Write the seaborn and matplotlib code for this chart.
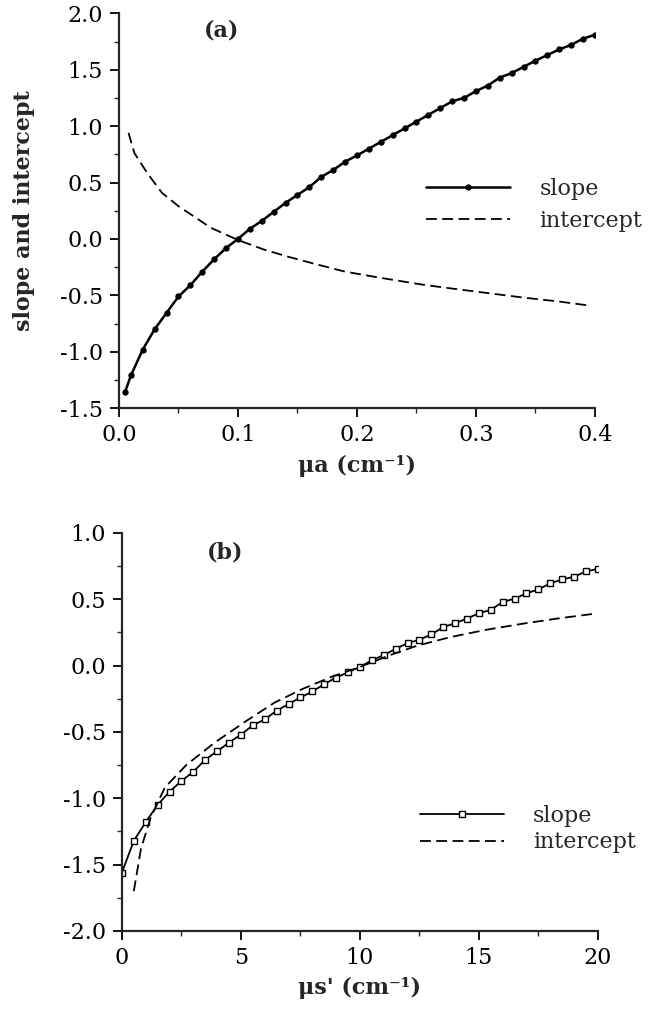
import numpy as np
import pandas as pd
import matplotlib
matplotlib.use("Agg")
import matplotlib.pyplot as plt
import seaborn as sns
from matplotlib.ticker import MultipleLocator

# panel (a): slope / intercept vs absorption coefficient
mua_slope = [0.005, 0.01, 0.02, 0.03, 0.04, 0.05, 0.06, 0.07, 0.08, 0.09, 0.10,
             0.11, 0.12, 0.13, 0.14, 0.15, 0.16, 0.17, 0.18, 0.19, 0.20,
             0.21, 0.22, 0.23, 0.24, 0.25, 0.26, 0.27, 0.28, 0.29, 0.30,
             0.31, 0.32, 0.33, 0.34, 0.35, 0.36, 0.37, 0.38, 0.39, 0.40]
slope_a = [-1.36, -1.21, -0.98, -0.80, -0.655, -0.51, -0.41, -0.29, -0.18, -0.08, 0.00,
           0.09, 0.16, 0.24, 0.32, 0.39, 0.46, 0.55, 0.61, 0.685, 0.74,
           0.80, 0.86, 0.92, 0.98, 1.04, 1.10, 1.16, 1.22, 1.25, 1.31,
           1.36, 1.43, 1.47, 1.525, 1.58, 1.63, 1.68, 1.72, 1.775, 1.81]
mua_icpt = [0.008, 0.013, 0.024, 0.036, 0.05, 0.065, 0.077, 0.10, 0.122, 0.143,
            0.166, 0.19, 0.22, 0.255, 0.28, 0.31, 0.34, 0.37, 0.395]
icpt_a = [0.94, 0.76, 0.58, 0.41, 0.29, 0.185, 0.10, -0.01, -0.095, -0.16,
          -0.225, -0.29, -0.345, -0.405, -0.44, -0.48, -0.52, -0.555, -0.59]

# panel (b): slope / intercept vs reduced scattering coefficient
mus_slope = [0, 0.5, 1.0, 1.5, 2.0, 2.5, 3.0, 3.5, 4.0, 4.5, 5.0, 5.5, 6.0, 6.5, 7.0,
             7.5, 8.0, 8.5, 9.0, 9.5, 10.0, 10.5, 11.0, 11.5, 12.0, 12.5, 13.0, 13.5,
             14.0, 14.5, 15.0, 15.5, 16.0, 16.5, 17.0, 17.5, 18.0, 18.5, 19.0, 19.5, 20.0]
slope_b = [-1.56, -1.32, -1.18, -1.05, -0.95, -0.87, -0.80, -0.71, -0.645, -0.58, -0.52,
           -0.45, -0.405, -0.34, -0.29, -0.24, -0.195, -0.14, -0.09, -0.05, -0.01,
           0.04, 0.08, 0.125, 0.17, 0.195, 0.235, 0.29, 0.32, 0.355, 0.395,
           0.42, 0.48, 0.505, 0.545, 0.575, 0.62, 0.65, 0.67, 0.71, 0.73]
mus_icpt = [0.5, 0.8, 1.2, 1.8, 2.7, 3.9, 5.2, 6.4, 7.6, 8.8, 10.0, 11.2, 12.4,
            13.8, 15.3, 16.8, 18.3, 19.8]
icpt_b = [-1.70, -1.38, -1.15, -0.92, -0.75, -0.58, -0.42, -0.28, -0.175, -0.085,
          -0.01, 0.075, 0.15, 0.215, 0.27, 0.315, 0.355, 0.39]

sns.set_style("ticks")
plt.rcParams['font.family'] = ['DejaVu Serif']
plt.rcParams['axes.unicode_minus'] = False
plt.rcParams['font.size'] = 16

fig = plt.figure(figsize=(6.52, 10.23), dpi=100)
ax1 = fig.add_axes([0.1825, 0.601, 0.730, 0.386])
ax2 = fig.add_axes([0.187, 0.090, 0.730, 0.389])

# (a)
sns.lineplot(x=mua_slope, y=slope_a, ax=ax1, color='black', lw=1.8, marker='o',
             markersize=3.8, markeredgecolor='black', label='slope')
sns.lineplot(x=mua_icpt, y=icpt_a, ax=ax1, color='black', lw=1.3, linestyle=(0, (6, 3)),
             label='intercept')
ax1.set_xlim(0, 0.4)
ax1.set_ylim(-1.5, 2.0)
ax1.xaxis.set_major_locator(MultipleLocator(0.1))
ax1.xaxis.set_minor_locator(MultipleLocator(0.05))
ax1.yaxis.set_major_locator(MultipleLocator(0.5))
ax1.yaxis.set_minor_locator(MultipleLocator(0.25))
ax1.xaxis.set_major_formatter(plt.FormatStrFormatter('%.1f'))
ax1.yaxis.set_major_formatter(plt.FormatStrFormatter('%.1f'))
ax1.set_xlabel('μa (cm⁻¹)', fontweight='bold', fontsize=16, labelpad=6)
ax1.set_ylabel('slope and intercept', fontweight='bold', fontsize=16, labelpad=18)
ax1.text(0.216, 0.957, '(a)', transform=ax1.transAxes, fontweight='bold', fontsize=16,
         ha='center', va='center')
ax1.legend(loc='center left', bbox_to_anchor=(0.603, 0.514), frameon=False,
           handlelength=3.8, fontsize=16, labelspacing=0.45, handletextpad=1.3)

# (b)
sns.lineplot(x=mus_slope, y=slope_b, ax=ax2, color='black', lw=1.3, marker='s',
             markersize=4.2, markerfacecolor='white', markeredgecolor='black',
             markeredgewidth=1.0, label='slope')
sns.lineplot(x=mus_icpt, y=icpt_b, ax=ax2, color='black', lw=1.3, linestyle=(0, (6, 3)),
             label='intercept')
ax2.set_xlim(0, 20)
ax2.set_ylim(-2.0, 1.0)
ax2.xaxis.set_major_locator(MultipleLocator(5))
ax2.xaxis.set_minor_locator(MultipleLocator(2.5))
ax2.yaxis.set_major_locator(MultipleLocator(0.5))
ax2.yaxis.set_minor_locator(MultipleLocator(0.25))
ax2.yaxis.set_major_formatter(plt.FormatStrFormatter('%.1f'))
ax2.set_xlabel("μs' (cm⁻¹)", fontweight='bold', fontsize=16, labelpad=6)
ax2.set_ylabel('')
ax2.text(0.216, 0.95, '(b)', transform=ax2.transAxes, fontweight='bold', fontsize=16,
         ha='center', va='center')
ax2.legend(loc='center left', bbox_to_anchor=(0.584, 0.256), frameon=False,
           handlelength=3.8, fontsize=16, labelspacing=0.2, handletextpad=1.3)

for ax in (ax1, ax2):
    sns.despine(ax=ax)
    ax.spines['left'].set_linewidth(1.6)
    ax.spines['bottom'].set_linewidth(1.6)
    ax.tick_params(which='major', direction='out', length=6.5, width=1.3, labelsize=16,
                   colors='black', pad=5)
    ax.tick_params(which='minor', direction='out', length=3.5, width=1.0)

fig.savefig('out.png', dpi=100)
